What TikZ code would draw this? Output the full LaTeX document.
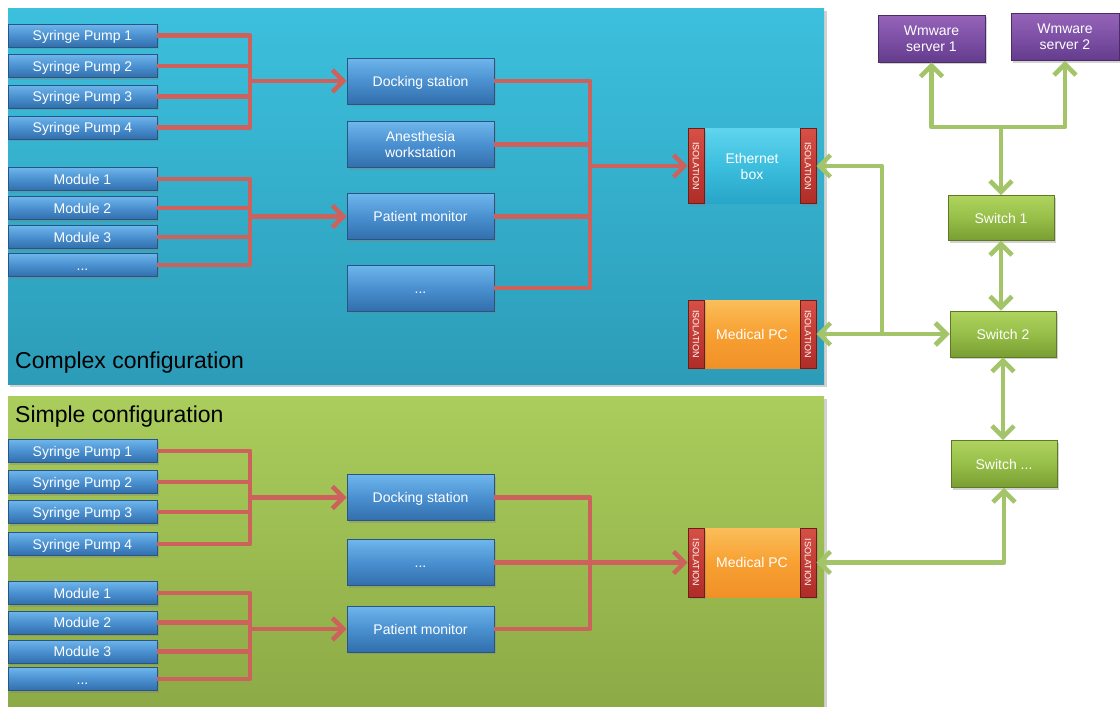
\documentclass[tikz,border=0pt]{standalone}
\usepackage{fontspec}
\setmainfont{Liberation Sans}
\usetikzlibrary{arrows.meta,shadows,calc}
\definecolor{redc}{RGB}{205,98,92}
\definecolor{greenc}{RGB}{163,196,104}
\definecolor{bluetop}{RGB}{110,182,236}
\definecolor{bluemid}{RGB}{74,144,208}
\definecolor{bluebot}{RGB}{50,110,172}
\definecolor{blueedge}{RGB}{40,85,130}
\definecolor{cxtop}{RGB}{60,192,221}
\definecolor{cxbot}{RGB}{44,156,184}
\definecolor{smtop}{RGB}{170,205,92}
\definecolor{smbot}{RGB}{140,170,70}
\begin{document}
\begin{tikzpicture}[x=1pt,y=-1pt,
  box/.style={draw=blueedge, line width=0.8pt, top color=bluetop, bottom color=bluebot, middle color=bluemid,
    text=white, font=\fontsize{14}{16}\selectfont, inner sep=0pt,
    drop shadow={shadow xshift=1.5pt, shadow yshift=-2pt, opacity=0.35}},
  oneline/.style={text height=10pt, text depth=0pt},
  twoline/.style={align=center},
  leftbox/.style={box, oneline, minimum width=149pt, minimum height=23pt},
  midbox/.style={box, minimum width=147pt, minimum height=46pt},
  iso/.style={draw={rgb,255:red,110;green,30;blue,25}, line width=0.6pt,
    top color={rgb,255:red,215;green,80;blue,70}, bottom color={rgb,255:red,175;green,45;blue,40},
    middle color={rgb,255:red,195;green,60;blue,52},
    text=white, font=\fontsize{9}{10}\selectfont, inner sep=0pt, minimum width=16pt,
    drop shadow={shadow xshift=1.5pt, shadow yshift=-2pt, opacity=0.35}},
  core/.style={draw=none, text=white, font=\fontsize{14}{16}\selectfont, inner sep=0pt, minimum width=96pt},
  ethcore/.style={core, top color={rgb,255:red,95;green,212;blue,238}, bottom color={rgb,255:red,40;green,165;blue,200}, middle color={rgb,255:red,60;green,190;blue,222}},
  pccore/.style={core, top color={rgb,255:red,250;green,190;blue,90}, bottom color={rgb,255:red,240;green,145;blue,40}, middle color={rgb,255:red,248;green,160;blue,50}},
  server/.style={draw={rgb,255:red,75;green,45;blue,100}, line width=0.8pt,
    top color={rgb,255:red,150;green,100;blue,185}, bottom color={rgb,255:red,100;green,60;blue,140}, middle color={rgb,255:red,125;green,80;blue,165},
    text=white, font=\fontsize{14}{16}\selectfont, align=center, inner sep=0pt, minimum width=107pt, minimum height=47pt,
    drop shadow={shadow xshift=1.5pt, shadow yshift=-2pt, opacity=0.35}},
  switchbox/.style={draw={rgb,255:red,95;green,120;blue,40}, line width=0.8pt,
    top color={rgb,255:red,175;green,212;blue,95}, bottom color={rgb,255:red,120;green,158;blue,50}, middle color={rgb,255:red,150;green,190;blue,72},
    text=white, font=\fontsize{14}{16}\selectfont, oneline, inner sep=0pt, minimum width=106pt, minimum height=46pt,
    drop shadow={shadow xshift=1.5pt, shadow yshift=-2pt, opacity=0.35}},
  redline/.style={draw=redc, line width=4.5pt, line join=round},
  redarr/.style={redline, -{Straight Barb[length=11pt,width=22pt]}},
  greenline/.style={draw=greenc, line width=4.5pt, line join=round},
  greenarr/.style={greenline, {Straight Barb[length=11pt,width=22pt]}-{Straight Barb[length=11pt,width=22pt]}},
  greentip/.style={greenline, -{Straight Barb[length=11pt,width=22pt]}},
  paneltitle/.style={anchor=base west, font=\fontsize{23}{26}\selectfont, text=black, inner sep=0pt}
]
\useasboundingbox (0,0) rectangle (1120,707);
\fill[white] (0,0) rectangle (1120,707);

% panels
\fill[black, opacity=0.18] (10,11) rectangle (827,387);
\shade[top color=cxtop, bottom color=cxbot] (8,8) rectangle (824,384);
\fill[black, opacity=0.18] (10,399) rectangle (827,710);
\shade[top color=smtop, bottom color=smbot] (8,396) rectangle (824,707);
\node[paneltitle] (cxt) at (15,368) {Complex configuration};
\node[paneltitle] (smt) at (15,422) {Simple configuration};

% ---------------- complex configuration ----------------
\node[leftbox] (cp1) at (82.5,35.5) {Syringe Pump 1};
\node[leftbox] (cp2) at (82.5,66) {Syringe Pump 2};
\node[leftbox] (cp3) at (82.5,96.5) {Syringe Pump 3};
\node[leftbox] (cp4) at (82.5,127.5) {Syringe Pump 4};
\node[leftbox] (cm1) at (82.5,179) {Module 1};
\node[leftbox] (cm2) at (82.5,208) {Module 2};
\node[leftbox] (cm3) at (82.5,237) {Module 3};
\node[leftbox] (cm4) at (82.5,265) {...};

\node[midbox, oneline] (cdock) at (420.5,81) {Docking station};
\node[midbox, twoline] (canes) at (420.5,144.5) {Anesthesia\\workstation};
\node[midbox, oneline] (cpm) at (420.5,216.5) {Patient monitor};
\node[midbox, oneline] (cdots) at (420.5,288) {...};

\node[ethcore, twoline, minimum height=75pt] (eth) at (752,166) {Ethernet\\box};
\node[iso, minimum height=75pt] (ethL) at (696,166) {\rotatebox{-90}{ISOLATION}};
\node[iso, minimum height=75pt] (ethR) at (808,166) {\rotatebox{-90}{ISOLATION}};

\node[pccore, oneline, minimum height=68pt] (cpc) at (752,334) {Medical PC};
\node[iso, minimum height=68pt] (cpcL) at (696,334) {\rotatebox{-90}{ISOLATION}};
\node[iso, minimum height=68pt] (cpcR) at (808,334) {\rotatebox{-90}{ISOLATION}};

\coordinate (cbusA) at (250,81);
\coordinate (cbusB) at (250,216.5);
\coordinate (cbusC) at (590,166);
\foreach \n in {cp1,cp2,cp3,cp4} \draw[redline] (\n.east) -| (cbusA);
\foreach \n in {cm1,cm2,cm3,cm4} \draw[redline] (\n.east) -| (cbusB);
\foreach \n in {cdock,canes,cpm,cdots} \draw[redline] (\n.east) -| (cbusC);
\draw[redarr] (cbusA) -- (cdock.west);
\draw[redarr] (cbusB) -- (cpm.west);
\draw[redarr] (cbusC) -- (ethL.west);

% ---------------- simple configuration ----------------
\node[leftbox] (sp1) at (82.5,451) {Syringe Pump 1};
\node[leftbox] (sp2) at (82.5,482) {Syringe Pump 2};
\node[leftbox] (sp3) at (82.5,512) {Syringe Pump 3};
\node[leftbox] (sp4) at (82.5,544) {Syringe Pump 4};
\node[leftbox] (sm1) at (82.5,593) {Module 1};
\node[leftbox] (sm2) at (82.5,622.5) {Module 2};
\node[leftbox] (sm3) at (82.5,651.5) {Module 3};
\node[leftbox] (sm4) at (82.5,679) {...};

\node[midbox, oneline] (sdock) at (420.5,497.5) {Docking station};
\node[midbox, oneline] (sdots) at (420.5,562.5) {...};
\node[midbox, oneline] (spm) at (420.5,629) {Patient monitor};

\node[pccore, oneline, minimum height=69pt] (spc) at (752,562.5) {Medical PC};
\node[iso, minimum height=69pt] (spcL) at (696,562.5) {\rotatebox{-90}{ISOLATION}};
\node[iso, minimum height=69pt] (spcR) at (808,562.5) {\rotatebox{-90}{ISOLATION}};

\coordinate (sbusA) at (250,497.5);
\coordinate (sbusB) at (250,629);
\coordinate (sbusC) at (590,562.5);
\foreach \n in {sp1,sp2,sp3,sp4} \draw[redline] (\n.east) -| (sbusA);
\foreach \n in {sm1,sm2,sm3,sm4} \draw[redline] (\n.east) -| (sbusB);
\foreach \n in {sdock,sdots,spm} \draw[redline] (\n.east) -| (sbusC);
\draw[redarr] (sbusA) -- (sdock.west);
\draw[redarr] (sbusB) -- (spm.west);
\draw[redarr] (sbusC) -- (spcL.west);

% ---------------- network ----------------
\node[server] (srv1) at (931.5,38.5) {Wmware\\server 1};
\node[server, minimum width=108pt] (srv2) at (1065,37) {Wmware\\server 2};
\node[switchbox, minimum height=45pt] (sw1) at (1001,218) {Switch 1};
\node[switchbox] (sw2) at (1003,334) {Switch 2};
\node[switchbox, minimum height=47pt] (swd) at (1004,464) {Switch ...};

\coordinate (gT) at (1001,127);
\coordinate (gE) at (882,334);
\draw[greenarr] (srv1.south) |- (gT) -| (srv2.south);
\draw[greentip] (gT) -- (sw1.north);
\draw[greenarr] (sw1.south) -- (sw2.north -| sw1.south);
\draw[greenarr] (sw2.south) -- (swd.north -| sw2.south);
\draw[greenarr] (ethR.east) -| (gE) -- (sw2.west);
\draw[greenarr] (cpcR.east) -- (sw2.west);
\draw[greenarr] (swd.south) |- (spcR.east);
\end{tikzpicture}
\end{document}
